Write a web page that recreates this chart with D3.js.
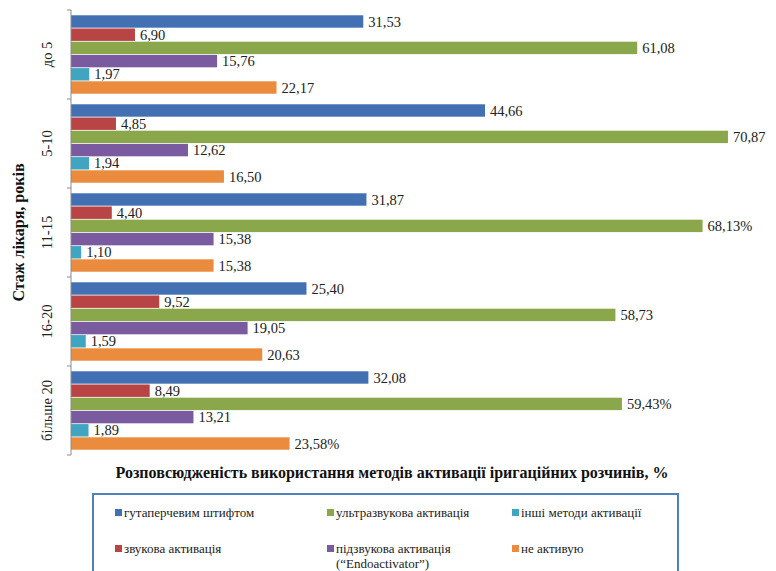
<!DOCTYPE html>
<html><head><meta charset="utf-8">
<script src="https://cdn.jsdelivr.net/npm/d3@7"></script>
<style>body{margin:0;background:#fff;} svg{display:block;}</style>
</head><body>
<svg id="c" width="776" height="571"></svg>
<script>
const categories = ["до 5", "5-10", "11-15", "16-20", "більше 20"];
const seriesNames = ["гутаперчевим штифтом", "звукова активація", "ультразвукова активація", "підзвукова активація (“Endoactivator”)", "інші методи активації", "не активую"];
const seriesColors = ["#4270b2", "#b94445", "#8aa84b", "#7a5b9f", "#3fa5c0", "#ea8b3e"];
const values = [
  [31.53, 6.90, 61.08, 15.76, 1.97, 22.17],
  [44.66, 4.85, 70.87, 12.62, 1.94, 16.50],
  [31.87, 4.40, 68.13, 15.38, 1.10, 15.38],
  [25.40, 9.52, 58.73, 19.05, 1.59, 20.63],
  [32.08, 8.49, 59.43, 13.21, 1.89, 23.58]
];
const valueLabels = [
  ["31,53", "6,90", "61,08", "15,76", "1,97", "22,17"],
  ["44,66", "4,85", "70,87", "12,62", "1,94", "16,50"],
  ["31,87", "4,40", "68,13%", "15,38", "1,10", "15,38"],
  ["25,40", "9,52", "58,73", "19,05", "1,59", "20,63"],
  ["32,08", "8,49", "59,43%", "13,21", "1,89", "23,58%"]
];
const yTitle = "Стаж лікаря, років";
const xTitle = "Розповсюдженість використання методів активації іригаційних розчинів, %";

const svg = d3.select("#c");
const serif = "Liberation Serif, DejaVu Serif, serif";
const x0 = 71, plotTop = 10, plotBottom = 455;
const x = d3.scaleLinear().domain([0, 80]).range([x0, x0 + 80 * 9.27]);
const y = d3.scaleBand().domain(categories).range([plotTop, plotBottom]).paddingInner(0).paddingOuter(0);
const ys = d3.scaleBand().domain(d3.range(6)).range([0, y.bandwidth()]).paddingInner(0.06).paddingOuter(0.4);

const g = svg.append("g");
categories.forEach((cat, ci) => {
  const gg = g.append("g").attr("transform", `translate(0,${y(cat)})`);
  values[ci].forEach((v, si) => {
    gg.append("rect").attr("x", x(0)).attr("y", ys(si))
      .attr("width", x(v) - x(0)).attr("height", ys.bandwidth())
      .attr("fill", seriesColors[si]);
    gg.append("text").attr("x", x(v) + 5).attr("y", ys(si) + ys.bandwidth() / 2)
      .attr("dy", "0.35em").style("font-family", serif).attr("font-size", 14.5)
      .attr("fill", "#222").text(valueLabels[ci][si]);
  });
});

// y axis
const yAxisG = svg.append("g").attr("transform", `translate(${x0},0)`);
yAxisG.append("line").attr("x1", 0).attr("x2", 0).attr("y1", plotTop).attr("y2", plotBottom).attr("stroke", "#8c8c8c");
const bounds = categories.map(c => y(c)).concat([plotBottom]);
bounds.forEach(b => yAxisG.append("line").attr("x1", -4).attr("x2", 0).attr("y1", b).attr("y2", b).attr("stroke", "#8c8c8c"));
categories.forEach(c => {
  const cy = y(c) + y.bandwidth() / 2;
  svg.append("text").attr("transform", `translate(52,${cy}) rotate(-90)`)
    .attr("text-anchor", "middle").style("font-family", serif).attr("font-size", 14.5)
    .attr("fill", "#222").text(c);
});
svg.append("text").attr("transform", `translate(24,${(plotTop + plotBottom) / 2}) rotate(-90)`)
  .attr("text-anchor", "middle").style("font-family", serif).attr("font-size", 16)
  .attr("font-weight", "bold").attr("fill", "#111").text(yTitle);

svg.append("text").attr("x", 392).attr("y", 478).attr("text-anchor", "middle")
  .style("font-family", serif).attr("font-size", 16).attr("font-weight", "bold")
  .attr("fill", "#111").text(xTitle);

// legend
svg.append("rect").attr("x", 93).attr("y", 494).attr("width", 585).attr("height", 80)
  .attr("fill", "#fff").attr("stroke", "#4f81bd").attr("stroke-width", 2);
const legendOrder = [0, 2, 4, 1, 3, 5];
const colX = [115, 327, 512];
const rowY = [513, 549];
legendOrder.forEach((si, i) => {
  const col = i % 3, row = Math.floor(i / 3);
  const lx = colX[col], ly = rowY[row];
  svg.append("rect").attr("x", lx).attr("y", ly - 4).attr("width", 7).attr("height", 7).attr("fill", seriesColors[si]);
  const t = svg.append("text").attr("x", lx + 9).attr("y", ly + 4)
    .style("font-family", serif).attr("font-size", 13).attr("fill", "#222");
  if (si === 3) {
    t.append("tspan").text("підзвукова активація");
    t.append("tspan").attr("x", lx + 9).attr("dy", 15).text("(“Endoactivator”)");
  } else {
    t.text(seriesNames[si]);
  }
});
</script>
</body></html>
